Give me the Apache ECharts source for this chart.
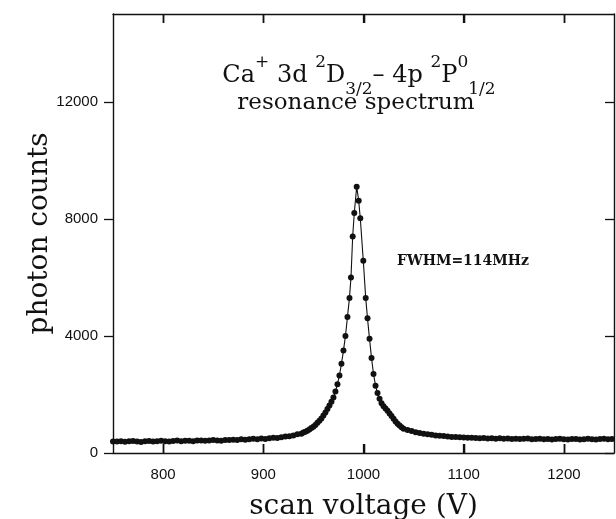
<!DOCTYPE html>
<html>
<head>
<meta charset="utf-8">
<title>Ca+ resonance spectrum</title>
<script src="https://cdn.jsdelivr.net/npm/echarts@6/dist/echarts.min.js"></script>
<style>
  html, body { margin: 0; padding: 0; background: #fff; }
  #chart { width: 616px; height: 519px; }
</style>
</head>
<body>
<div id="chart"></div>
<script>
// scan voltage (V) of each measured point
var voltage = [
  750, 754, 758, 762, 766, 770, 774, 778, 782, 786, 790, 794, 798, 802, 806, 810,
  814, 818, 822, 826, 830, 834, 838, 842, 846, 850, 854, 858, 862, 866, 870, 874,
  878, 882, 886, 890, 894, 898, 902, 906, 910, 914, 918, 922, 926, 930, 934, 938,
  940, 942, 944, 946, 948, 950, 952, 954, 956, 958, 960, 962, 964, 966, 968, 970,
  972, 974, 976, 978, 980, 982, 984, 986, 987.5, 989.2, 990.8, 993.2, 995.2, 996.8,
  999.8, 1002.2, 1004, 1006, 1008, 1010, 1012, 1014, 1016, 1018, 1020, 1022, 1024,
  1026, 1028, 1030, 1032, 1034, 1036, 1038, 1040,
  1044, 1048, 1052, 1056, 1060, 1064, 1068, 1072, 1076, 1080, 1084, 1088, 1092,
  1096, 1100, 1104, 1108, 1112, 1116, 1120, 1124, 1128, 1132, 1136, 1140, 1144,
  1148, 1152, 1156, 1160, 1164, 1168, 1172, 1176, 1180, 1184, 1188, 1192, 1196,
  1200, 1204, 1208, 1212, 1216, 1220, 1224, 1228, 1232, 1236, 1240, 1244, 1248
]
// photon counts
var counts = [
  390, 395, 400, 385, 405, 410, 395, 380, 400, 410, 395, 405, 420, 400, 390, 410,
  425, 405, 415, 420, 400, 425, 430, 415, 425, 440, 430, 420, 445, 440, 450, 445,
  470, 455, 470, 490, 470, 495, 480, 505, 520, 510, 540, 560, 575, 600, 640, 660,
  700, 730, 760, 800, 850, 900, 960, 1030, 1100, 1180, 1280, 1380, 1500, 1620, 1750, 1900,
  2100, 2350, 2650, 3050, 3500, 4000, 4650, 5300, 6000, 7400, 8200, 9100, 8620, 8020,
  6570, 5300, 4600, 3900, 3250, 2700, 2300, 2050, 1850, 1700, 1600, 1520, 1440,
  1350, 1260, 1170, 1080, 1000, 940, 880, 830,
  790, 750, 710, 680, 660, 640, 620, 600, 590, 580, 565, 550, 545,
  540, 530, 520, 525, 510, 505, 515, 495, 500, 490, 505, 485, 495,
  480, 490, 475, 485, 495, 470, 480, 490, 470, 480, 465, 475, 485,
  470, 460, 475, 480, 465, 470, 485, 470, 460, 475, 485, 470, 480
]
var xTicks = [800, 900, 1000, 1100, 1200]
var yTicks = [0, 4000, 8000, 12000]

var ink = '#111'
var serif = '"DejaVu Serif", "Liberation Serif", serif'
var sans = '"Liberation Sans", Arial, sans-serif'
var tickLen = 9

function buildPoints() {
  var pts = []
  for (var i = 0; i < voltage.length; i++) {
    pts.push([voltage[i], counts[i]])
  }
  return pts
}

function plainNumber(v) {
  return String(v)
}

function frameAxis(opts) {
  // shared settings for the boxed frame axes
  return Object.assign({
    type: 'value',
    axisLine: { show: true, onZero: false, lineStyle: { color: ink, width: 1.4 } },
    splitLine: { show: false }
  }, opts)
}

function tickStyle(inside, values) {
  return {
    show: true, inside: inside, length: tickLen,
    lineStyle: { color: ink, width: 1.3 },
    customValues: values
  }
}

// inward ticks of the bottom and top frame, placed through the x scale
function xFrameTicks(chart) {
  var items = []
  var yBottom = chart.convertToPixel({ yAxisIndex: 0 }, 0)
  var yTop = chart.convertToPixel({ yAxisIndex: 0 }, 15000)
  xTicks.forEach(function (v, i) {
    var px = Math.round(chart.convertToPixel({ xAxisIndex: 0 }, v)) + 0.5
    items.push({
      type: 'line', id: 'tb' + i, silent: true, z: 100,
      shape: { x1: px, y1: yBottom, x2: px, y2: yBottom - tickLen },
      style: { stroke: ink, lineWidth: 1.6 }
    })
    items.push({
      type: 'line', id: 'tt' + i, silent: true, z: 100,
      shape: { x1: px, y1: yTop, x2: px, y2: yTop + tickLen },
      style: { stroke: ink, lineWidth: 1.6 }
    })
  })
  return items
}

function renderChart() {
  var chart = echarts.init(document.getElementById('chart'), null, { renderer: 'canvas' })
  var option = {
    backgroundColor: '#fff',
    animation: false,
    grid: { left: 113, right: 2, top: 14, bottom: 66, outerBoundsMode: 'none', containLabel: false },
    xAxis: [
      frameAxis({
        min: 750, max: 1250,
        name: 'scan voltage (V)',
        nameLocation: 'middle',
        nameGap: 40,
        nameTextStyle: { fontFamily: serif, fontSize: 28, color: ink },
        axisTick: tickStyle(true, xTicks),
        axisLabel: {
          margin: 14, fontFamily: sans, fontSize: 15, color: ink,
          formatter: plainNumber,
          customValues: xTicks
        }
      }),
      frameAxis({
        min: 750, max: 1250, position: 'top',
        axisTick: tickStyle(true, xTicks),
        axisLabel: { show: false }
      })
    ],
    yAxis: [
      frameAxis({
        min: 0, max: 15000,
        name: 'photon counts',
        nameLocation: 'middle',
        nameGap: 59,
        nameMoveOverlap: false,
        nameTextStyle: { fontFamily: serif, fontSize: 28, color: ink },
        axisTick: tickStyle(false, yTicks),
        axisLabel: {
          margin: 15, fontFamily: sans, fontSize: 15, color: ink,
          formatter: plainNumber,
          customValues: yTicks
        }
      }),
      frameAxis({
        min: 0, max: 15000, position: 'right',
        axisTick: tickStyle(true, yTicks),
        axisLabel: { show: false, customValues: yTicks }
      })
    ],
    series: [{
      type: 'line',
      xAxisIndex: 0,
      yAxisIndex: 0,
      data: buildPoints(),
      symbol: 'circle',
      symbolSize: 6,
      showSymbol: true,
      itemStyle: { color: ink },
      lineStyle: { color: ink, width: 1.1 }
    }],
    graphic: [
      {
        type: 'text', id: 'title1',
        x: 359, y: 54,
        style: {
          text: '{n|Ca}{sup|+}{n| 3d }{sup|2}{n|D}{sub|3/2}{n|– 4p }{sup|2}{n|P}{sup|0}{sub|1/2}',
          fill: ink,
          align: 'center',
          rich: {
            n: { fontFamily: serif, fontSize: 24, lineHeight: 44, verticalAlign: 'middle' },
            sup: { fontFamily: serif, fontSize: 17, lineHeight: 44, verticalAlign: 'top' },
            sub: { fontFamily: serif, fontSize: 17, lineHeight: 44, verticalAlign: 'bottom' }
          }
        }
      },
      {
        type: 'text', id: 'title2',
        x: 356, y: 92,
        style: { text: 'resonance spectrum', fontFamily: serif, fontSize: 23, fill: ink, align: 'center' }
      },
      {
        type: 'text', id: 'fwhm',
        x: 397, y: 254,
        style: { text: 'FWHM=114MHz', fontFamily: serif, fontSize: 14, fontWeight: 'bold', fill: ink }
      }
    ]
  }
  chart.setOption(option)
  chart.setOption({ graphic: xFrameTicks(chart) })
  return chart
}

renderChart()
</script>
</body>
</html>
